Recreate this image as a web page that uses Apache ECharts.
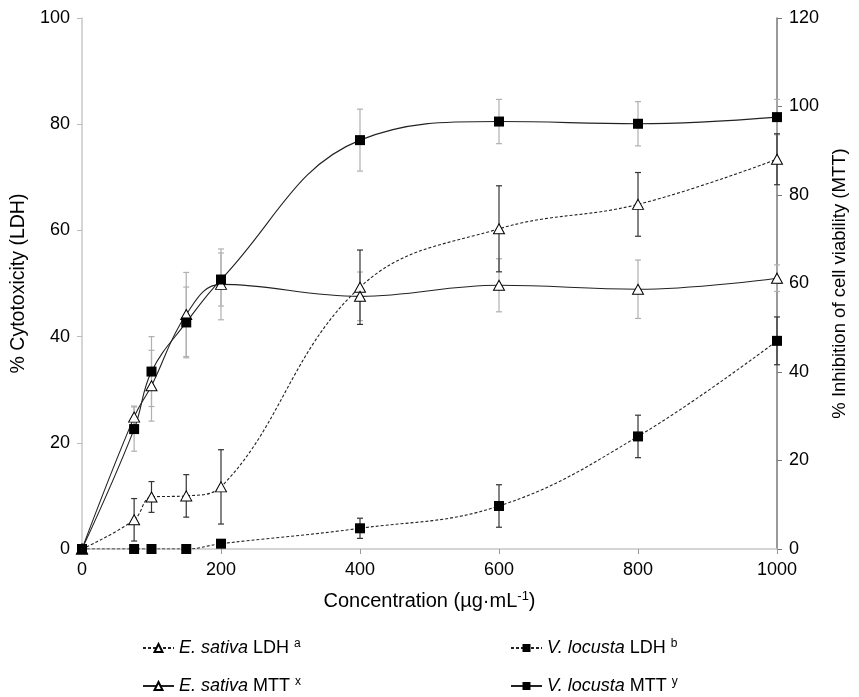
<!DOCTYPE html>
<html><head><meta charset="utf-8">
<script src="https://cdn.jsdelivr.net/npm/echarts@6/dist/echarts.min.js"></script>
<style>html,body{margin:0;padding:0;background:#fff}#c{width:859px;height:697px}</style>
</head><body><div id="c"></div>
<script>
const concentrations = [0, 75, 100, 150, 200, 400, 600, 800, 1000];
const esLdh    = [0, 5.5, 9.8, 10.0, 11.7, 49.3, 60.3, 64.9, 73.4];
const esLdhErr = [0, 4.0, 2.9, 4.0, 7.0, 7.0, 8.1, 6.0, 4.8];
const vlLdh    = [0, 0, 0, 0, 1.0, 3.9, 8.1, 21.2, 39.2];
const vlLdhErr = [0, 0, 0, 0, 0, 1.9, 4.0, 4.0, 4.5];
const esMtt    = [0, 29.8, 36.9, 53.0, 59.8, 57.1, 59.6, 58.7, 61.2];
const esMttErr = [0, 2.5, 8.0, 9.5, 8.0, 5.5, 6.0, 6.6, 3.0];
const vlMtt    = [0, 27.1, 40.1, 51.2, 60.9, 92.4, 96.6, 96.1, 97.6];
const vlMttErr = [0, 5.0, 7.9, 8.0, 6.0, 7.0, 5.0, 5.0, 4.0];
const xTicks = [0, 200, 400, 600, 800, 1000];
const leftTicks = [0, 20, 40, 60, 80, 100];
const rightTicks = [0, 20, 40, 60, 80, 100, 120];

const FONT = '"Liberation Sans", Arial, sans-serif';
const pts = v => concentrations.map((x, i) => [x, v[i]]);
const errs = (v, e) => concentrations.map((x, i) => [x, v[i] - e[i], v[i] + e[i]]).filter(d => d[2] > d[1]);

function errSeries(v, e, axis, color) {
  return {
    type: 'custom', yAxisIndex: axis, z: 1, silent: true,
    data: errs(v, e),
    renderItem: function (params, api) {
      const lo = api.coord([api.value(0), api.value(1)]);
      const hi = api.coord([api.value(0), api.value(2)]);
      const w = 3;
      const st = { stroke: color, lineWidth: 1.2 };
      return { type: 'group', children: [
        { type: 'line', shape: { x1: lo[0], y1: lo[1], x2: hi[0], y2: hi[1] }, style: st },
        { type: 'line', shape: { x1: lo[0] - w, y1: lo[1], x2: lo[0] + w, y2: lo[1] }, style: st },
        { type: 'line', shape: { x1: hi[0] - w, y1: hi[1], x2: hi[0] + w, y2: hi[1] }, style: st }
      ]};
    }
  };
}

function mkRich(size, supSize, supPad) {
  return {
    i: { fontStyle: 'italic', fontSize: size, fontFamily: FONT, color: '#000' },
    n: { fontSize: size, fontFamily: FONT, color: '#000' },
    s: { fontSize: supSize, fontFamily: FONT, color: '#000', verticalAlign: 'top', padding: [0, 0, supPad, 0] }
  };
}
const legendRich = mkRich(18, 12, 8);
const nameRich = mkRich(20, 13, 9);
const legendLabels = {
  'E. sativa LDH': '{i|E. sativa} {n|LDH }{s|a}',
  'V. locusta LDH': '{i|V. locusta} {n|LDH }{s|b}',
  'E. sativa MTT': '{i|E. sativa} {n|MTT }{s|x}',
  'V. locusta MTT': '{i|V. locusta} {n|MTT }{s|y}'
};

const lineColor = '#222';
function lineSeries(name, v, axis, dashed, sym) {
  return {
    name: name, type: 'line', yAxisIndex: axis, smooth: 0.4, z: 3,
    data: pts(v),
    symbol: sym === 'tri' ? 'triangle' : 'rect',
    symbolSize: sym === 'tri' ? [11, 10] : 10,
    itemStyle: sym === 'tri' ? { color: '#fff', borderColor: '#000', borderWidth: 1 } : { color: '#000', borderColor: '#000', borderWidth: 0 },
    lineStyle: { color: lineColor, width: 1.1, type: dashed ? [3, 2] : 'solid' }
  };
}

function oneLegend(name, left, top) {
  return {
    left: left, top: top, data: [name], itemWidth: 31, itemHeight: 10, itemGap: 0, padding: 0,
    formatter: n => legendLabels[n],
    textStyle: { rich: legendRich, fontFamily: FONT, fontSize: 18 }
  };
}

const tickLabel = { color: '#000', fontSize: 18, fontFamily: FONT, formatter: v => String(v) };

const chart = echarts.init(document.getElementById('c'));
chart.setOption({
  animation: false,
  grid: { left: 82, right: 82, top: 18, bottom: 148 },
  legend: [
    oneLegend('E. sativa LDH', 142, 638),
    oneLegend('E. sativa MTT', 142, 676),
    oneLegend('V. locusta LDH', 510, 638),
    oneLegend('V. locusta MTT', 510, 676)
  ],
  xAxis: {
    type: 'value', min: xTicks[0], max: xTicks[xTicks.length - 1], interval: xTicks[1] - xTicks[0],
    name: '{n|Concentration (µg·mL}{s|-1}{n|)}', nameLocation: 'middle', nameGap: 41,
    nameTextStyle: { rich: nameRich },
    axisLine: { lineStyle: { color: '#c8c8c8', width: 1.5 } },
    axisTick: { show: true, length: 5, lineStyle: { color: '#999' } },
    axisLabel: Object.assign({ margin: 12 }, tickLabel),
    splitLine: { show: false }
  },
  yAxis: [
    {
      type: 'value', min: leftTicks[0], max: leftTicks[leftTicks.length - 1], interval: leftTicks[1] - leftTicks[0],
      name: '% Cytotoxicity (LDH)', nameLocation: 'middle', nameGap: 43,
      nameTextStyle: { color: '#000', fontSize: 19.5, fontFamily: FONT },
      axisLine: { show: true, lineStyle: { color: '#c8c8c8', width: 1.5 } },
      axisTick: { show: true, length: 5, lineStyle: { color: '#bbb' } },
      axisLabel: Object.assign({ margin: 12 }, tickLabel),
      splitLine: { show: false }
    },
    {
      type: 'value', position: 'right', min: rightTicks[0], max: rightTicks[rightTicks.length - 1], interval: rightTicks[1] - rightTicks[0],
      name: '% Inhibition of cell viability (MTT)', nameLocation: 'middle', nameGap: 53, nameRotate: 90,
      nameTextStyle: { color: '#000', fontSize: 18.5, fontFamily: FONT },
      axisLine: { show: true, lineStyle: { color: '#777', width: 1.5 } },
      axisTick: { show: true, length: 5, lineStyle: { color: '#777' } },
      axisLabel: Object.assign({ margin: 12 }, tickLabel),
      splitLine: { show: false }
    }
  ],
  series: [
    errSeries(esMtt, esMttErr, 1, '#b0b0b0'),
    errSeries(vlMtt, vlMttErr, 1, '#b0b0b0'),
    errSeries(esLdh, esLdhErr, 0, '#333'),
    errSeries(vlLdh, vlLdhErr, 0, '#333'),
    lineSeries('E. sativa LDH', esLdh, 0, true, 'tri'),
    lineSeries('V. locusta LDH', vlLdh, 0, true, 'sq'),
    lineSeries('E. sativa MTT', esMtt, 1, false, 'tri'),
    lineSeries('V. locusta MTT', vlMtt, 1, false, 'sq')
  ]
});
</script></body></html>
